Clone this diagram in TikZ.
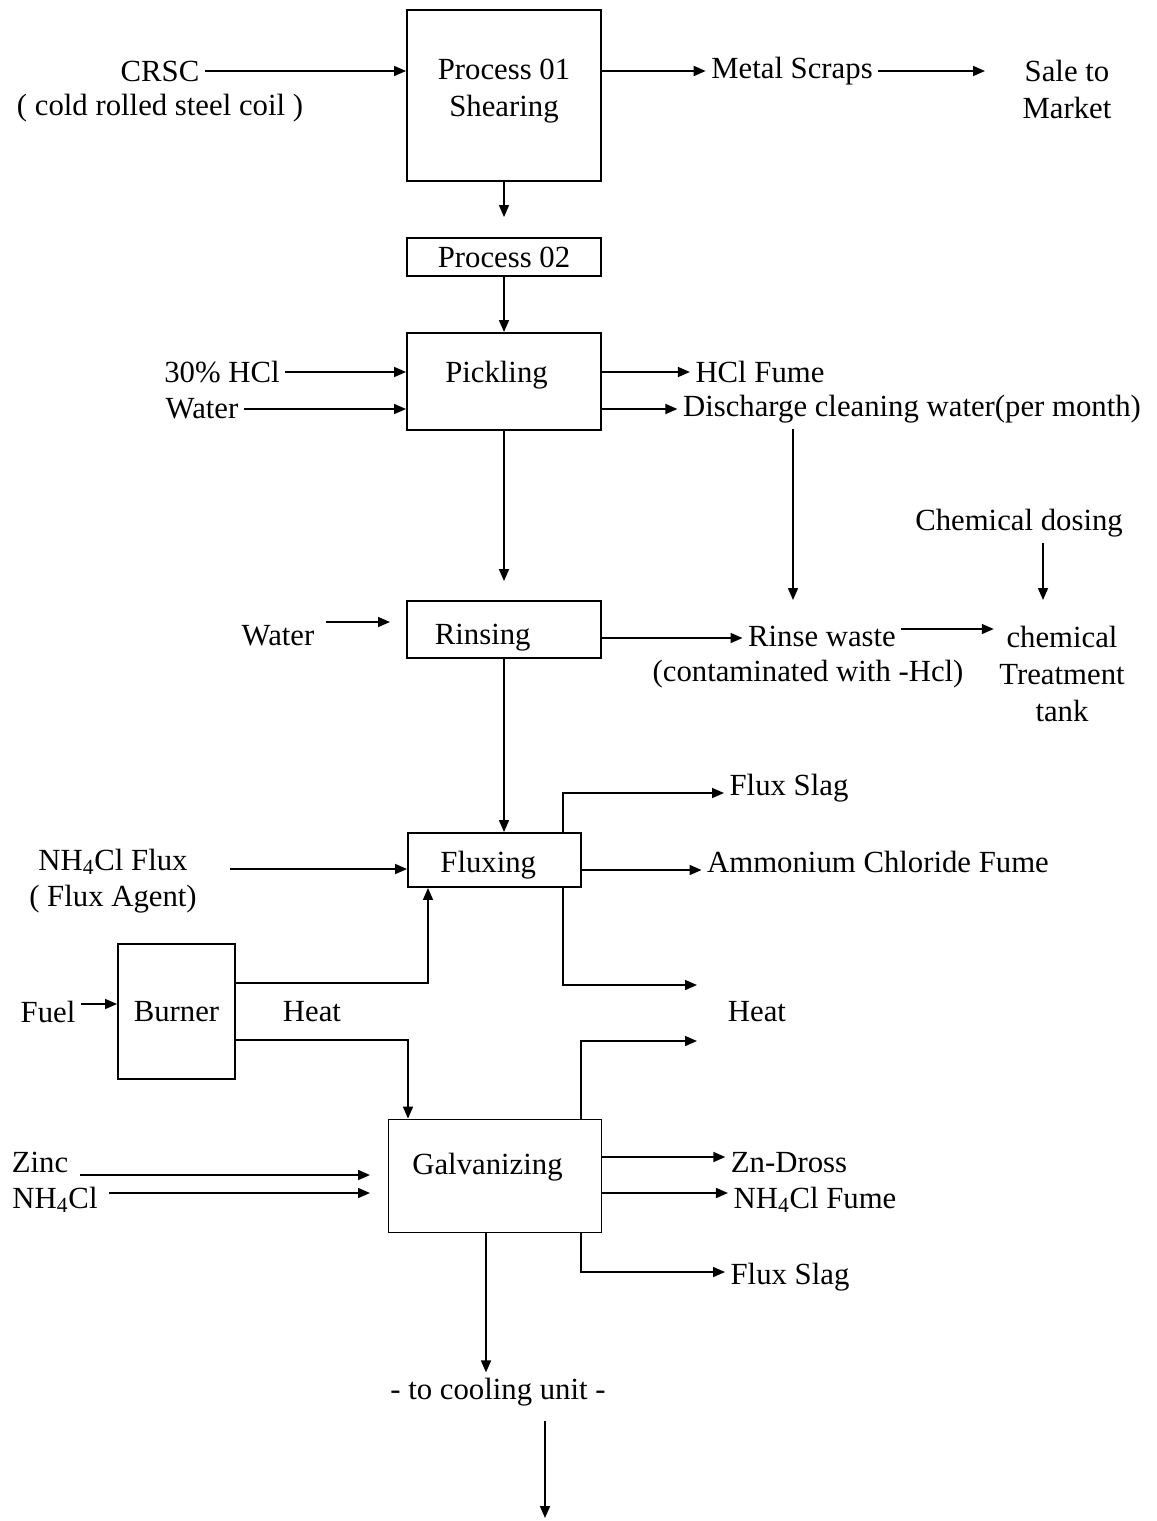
\documentclass[tikz,border=0pt]{standalone}
\usepackage{fontspec}
\setmainfont{Liberation Serif}
\usepackage{tikz}
\usetikzlibrary{arrows.meta, calc}

\begin{document}
\begin{tikzpicture}[x=0.02cm, y=-0.02cm,
    box/.style={draw, line width=1.1pt, font=\fontsize{17.5}{21}\selectfont, align=center, inner sep=2pt},
    txt/.style={font=\fontsize{17.5}{21}\selectfont, align=center, inner sep=3pt},
    flow/.style={line width=0.9pt, -{Triangle[length=2.4mm, width=2mm]}}]
    \useasboundingbox (0,0) rectangle (1156,1521);

    \node[box, minimum width=3.88cm, minimum height=3.42cm, text depth=0.3cm] (p1) at (504,95.5) {Process 01\\Shearing};
    \node[box, minimum width=3.88cm, minimum height=0.76cm] (p2) at (504,257) {Process 02};
    \node[box, minimum width=3.88cm, minimum height=1.94cm, text depth=0.38cm] (pick) at (504,381.5) {Pickling\hspace*{0.3cm}};
    \node[box, minimum width=3.88cm, minimum height=1.14cm, text height=0.75cm] (rins) at (504,629.5) {Rinsing\hspace*{0.85cm}};
    \node[box, minimum width=3.46cm, minimum height=1.08cm, text height=0.63cm] (flux) at (494.5,860) {Fluxing\hspace*{0.25cm}};
    \node[box, minimum width=2.34cm, minimum height=2.7cm] (burner) at (176.5,1011.5) {Burner};
    \node[box, minimum width=4.26cm, minimum height=2.26cm, text depth=0.5cm] (galv) at (495,1176) {Galvanizing\hspace*{0.3cm}};

    \node[txt] (crsc) at (160,71) {CRSC};
    \node[txt] (coil) at (160,108) {( cold rolled steel coil )};
    \node[txt] (scraps) at (792,71) {Metal Scraps};
    \node[txt] (sale) at (1067,89.5) {Sale to\\Market};
    \node[txt] (hcl) at (222,372) {30\% HCl};
    \node[txt] (water1) at (202,409) {Water};
    \node[txt] (fume) at (760,372) {HCl Fume};
    \node[txt] (disch) at (912,409) {Discharge cleaning water(per month)};
    \node[txt] (water2) at (278,636) {Water};
    \node[txt] (waste) at (822,636) {Rinse waste};
    \node[txt] (contam) at (808,674) {(contaminated with -Hcl)};
    \node[txt] (dosing) at (1019,523) {Chemical dosing};
    \node[txt] (tank) at (1062,674) {chemical\\Treatment\\tank};
    \node[txt] (slag1) at (789,788) {Flux Slag};
    \node[txt] (ammon) at (878,862) {Ammonium Chloride Fume};
    \node[txt] (nhflux) at (113,862) {NH\textsubscript{4}Cl Flux};
    \node[txt] (agent) at (113,899) {( Flux Agent)};
    \node[txt] (fuel) at (48,1012) {Fuel};
    \node[txt] (heatb) at (312,1012) {Heat};
    \node[txt] (heat) at (757,1012) {Heat};
    \node[txt] (zinc) at (40,1162) {Zinc};
    \node[txt] (nhcl) at (55,1200) {NH\textsubscript{4}Cl};
    \node[txt] (dross) at (789,1163) {Zn-Dross};
    \node[txt] (nhfume) at (815,1200) {NH\textsubscript{4}Cl Fume};
    \node[txt] (slag2) at (790,1277) {Flux Slag};
    \node[txt] (cool) at (498,1392) {- to cooling unit -};

    \coordinate (hup) at (697,985);
    \coordinate (hdn) at (697,1041);
    \coordinate (zin) at (370,1175);
    \coordinate (nin) at (370,1193);
    \coordinate (win) at (390,622);
    \coordinate (endpt) at (545,1518);

    \draw[flow] (crsc) -- (crsc -| p1.west);
    \draw[flow] (scraps -| p1.east) -- (scraps.west);
    \draw[flow, shorten >=0.64cm] (scraps.east) -- (scraps -| sale.west);
    \draw[flow, shorten >=0.4cm] (p1) -- (p2);
    \draw[flow] (p2) -- (pick);
    \draw[flow] (hcl) -- (hcl -| pick.west);
    \draw[flow] (water1) -- (water1 -| pick.west);
    \draw[flow] (fume -| pick.east) -- (fume.west);
    \draw[flow] (disch -| pick.east) -- (disch.west);
    \draw[flow] (disch.south -| 793,0) -- (793,600);
    \draw[flow, shorten >=0.38cm] (pick) -- (rins);
    \draw[flow] ($(water2.east)+(6,-14)$) -- (win);
    \draw[flow] (rins.east |- 0,638) -- (waste.west |- 0,638);
    \draw[flow] (waste.east |- 0,629) -- (tank.west |- 0,629);
    \draw[flow] (dosing.south -| 1043,0) -- (1043,600);
    \draw[flow] (rins) -- (rins |- flux.north);
    \draw[flow] (flux.north -| 563,0) |- (slag1.west |- 0,793);
    \draw[flow] (flux.east |- 0,870) -- (ammon.west |- 0,870);
    \draw[flow] (agent.east |- 0,869) ++(28,0) -- (flux.west |- 0,869);
    \draw[flow] (flux.south -| 563,0) |- (hup);
    \draw[flow] (fuel.east |- 0,1004) -- (burner.west |- 0,1004);
    \draw[flow] (burner.east |- 0,983) -| (flux.south -| 428,0);
    \draw[flow] (burner.east |- 0,1040) -| (galv.north -| 408,0);
    \draw[flow] (galv.north -| 581,0) |- (hdn);
    \draw[flow] (zinc.east |- zin) ++(6,0) -- (zin);
    \draw[flow] (nhcl.east |- nin) ++(6,0) -- (nin);
    \draw[flow] (galv.east |- 0,1157) -- (dross.west |- 0,1157);
    \draw[flow] (galv.east |- 0,1193) -- (nhfume.west |- 0,1193);
    \draw[flow] (galv.south -| 581,0) |- (slag2.west |- 0,1272);
    \draw[flow] (galv.south -| 486,0) -- (cool.north -| 486,0);
    \draw[flow] (cool.south -| endpt) ++(0,9) -- (endpt);
\end{tikzpicture}
\end{document}
